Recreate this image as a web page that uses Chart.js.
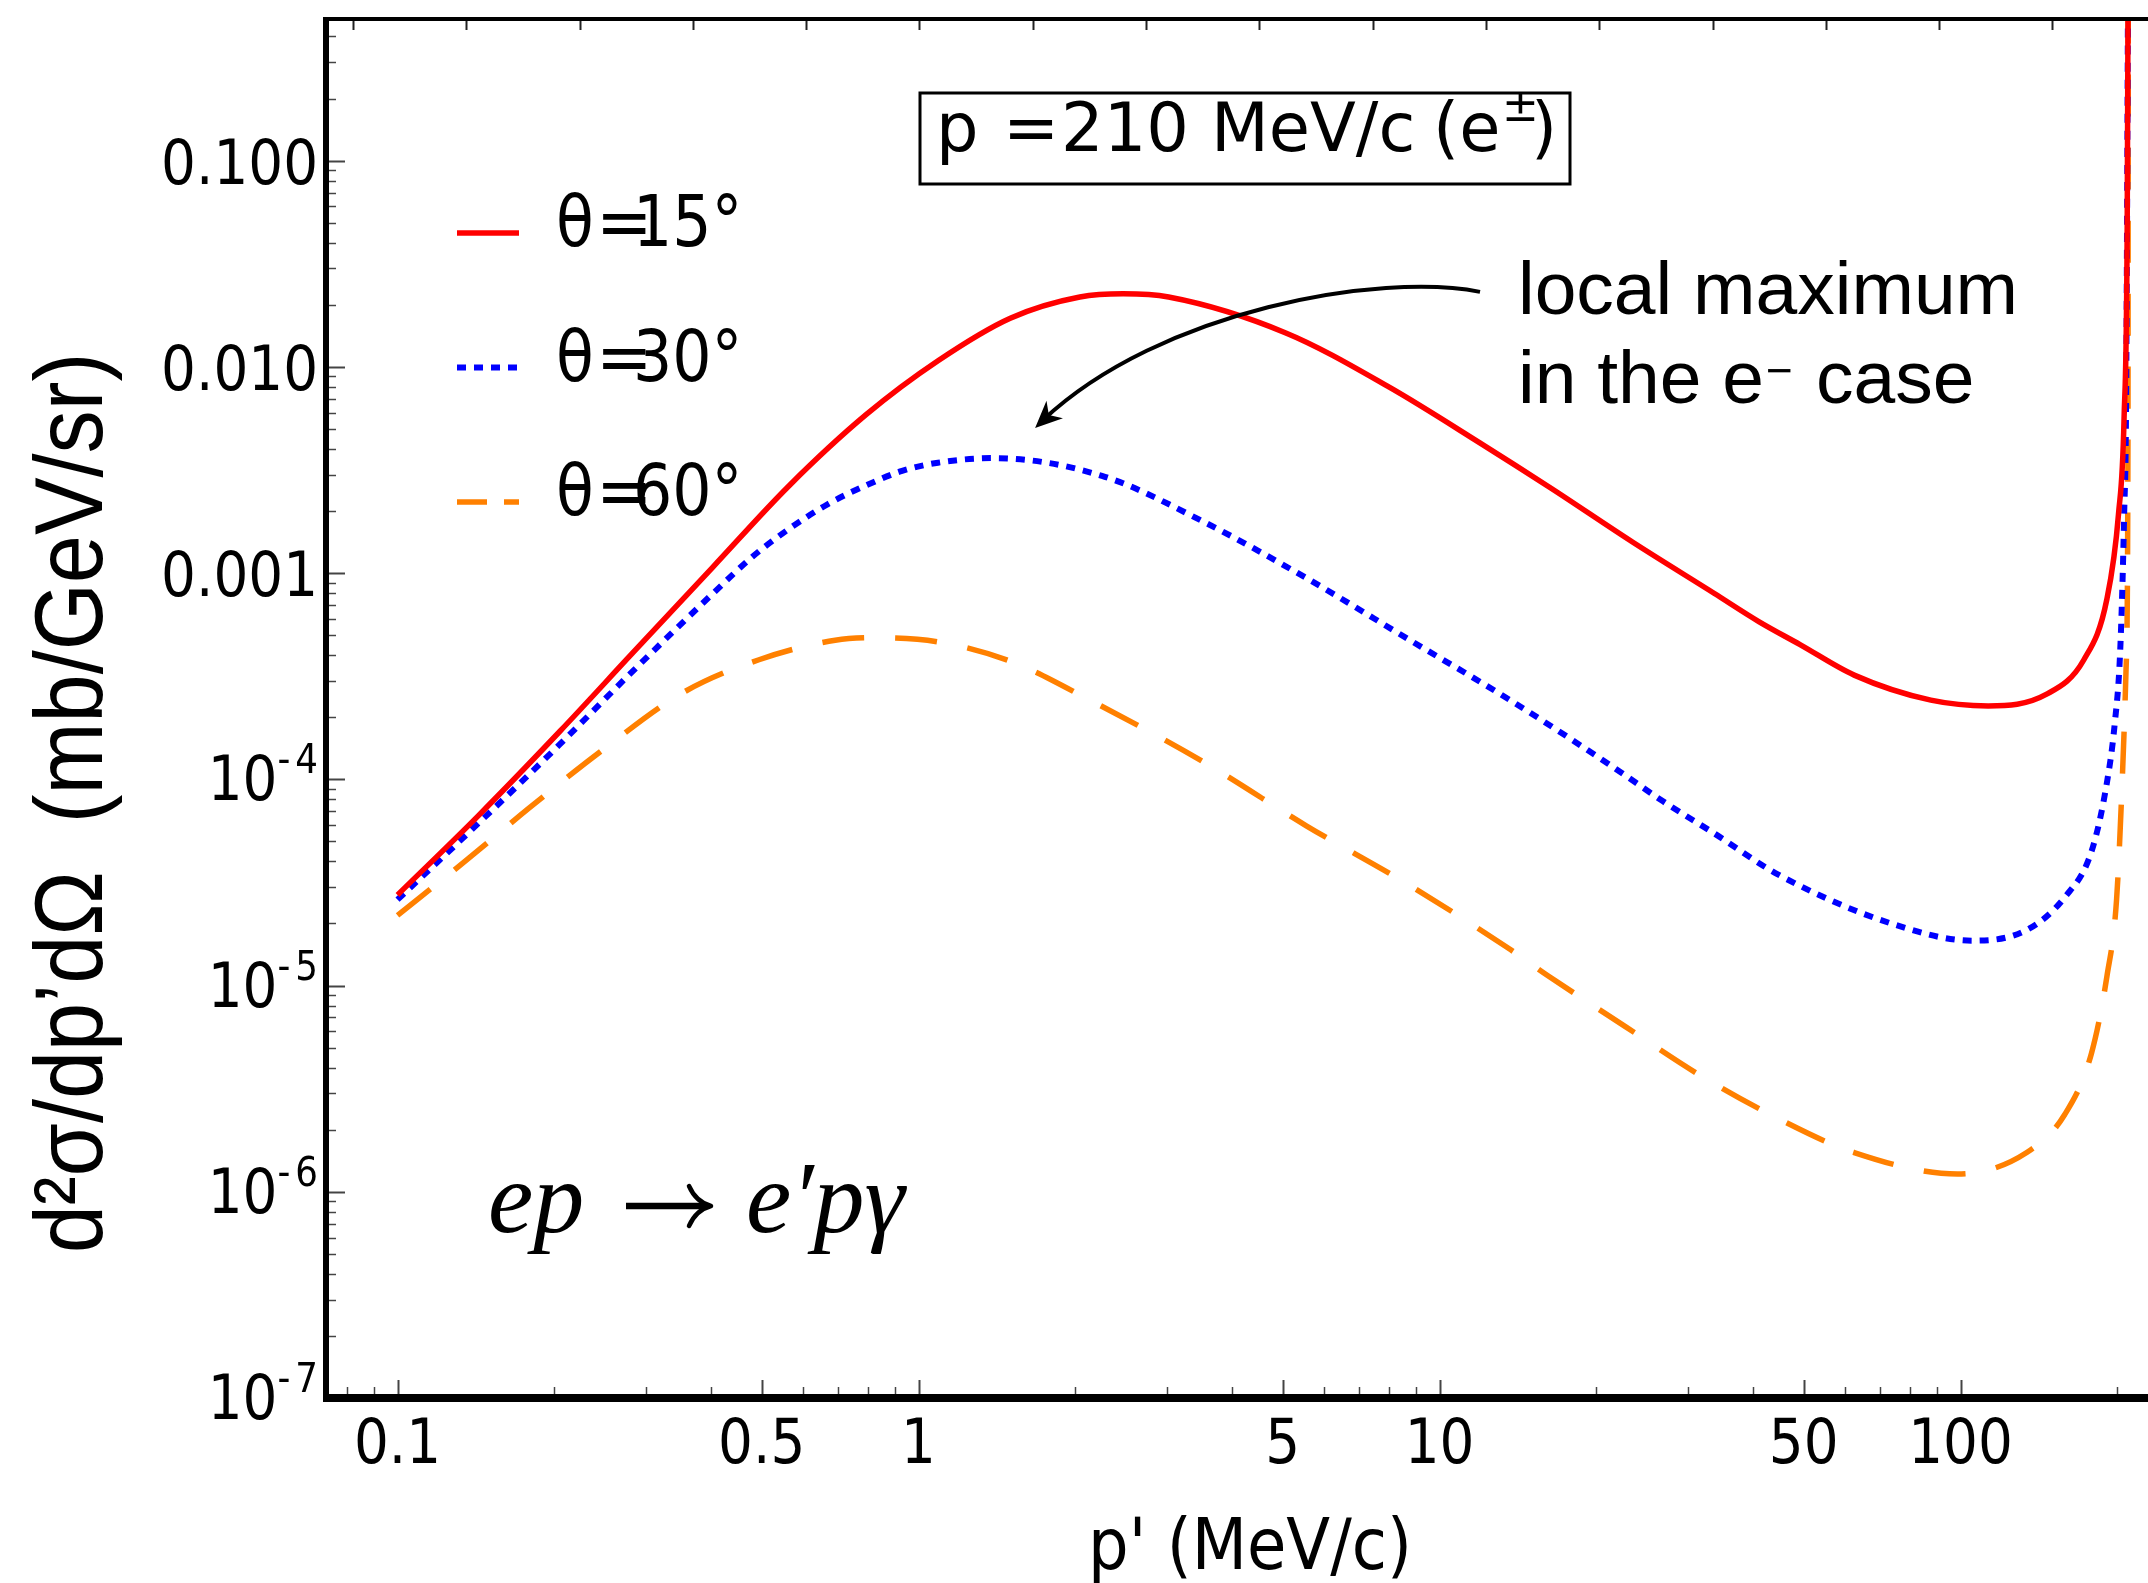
<!DOCTYPE html>
<html>
<head>
<meta charset="utf-8">
<script src="https://cdn.jsdelivr.net/npm/chart.js@4.4.1/dist/chart.umd.min.js"></script>
<style>
  html, body { margin: 0; padding: 0; background: #fff; }
  canvas { display: block; }
</style>
</head>
<body>
<canvas id="xsecChart" width="2148" height="1583"></canvas>
<script>
// ep -> e'p gamma, p = 210 MeV/c: d2sigma/dp'dOmega (mb/GeV/sr) vs p' (MeV/c)

// theta = 15 deg
const p15 = [0.1, 0.143, 0.205, 0.281, 0.403, 0.565, 0.793, 1.09, 1.5, 2.04, 2.47, 3.02, 5.07, 7.96, 11.95, 16.4, 23.5, 33.7, 41, 49.2, 62.5, 87.7, 113, 146, 172.5, 191, 201, 206, 208.9, 209.8];
const sigma15 = [2.75e-5, 6.67e-5, 1.71e-4, 4.03e-4, 1.07e-3, 2.66e-3, 5.86e-3, 1.07e-2, 1.72e-2, 2.18e-2, 2.26e-2, 2.18e-2, 1.46e-2, 8.04e-3, 4.28e-3, 2.57e-3, 1.41e-3, 7.96e-4, 5.82e-4, 4.5e-4, 3.2e-4, 2.42e-4, 2.27e-4, 2.58e-4, 3.8e-4, 7.5e-4, 1.93e-3, 5.6e-3, 5e-2, 1.0];

// theta = 30 deg
const p30 = [0.1, 0.143, 0.205, 0.281, 0.403, 0.48, 0.553, 0.67, 0.793, 0.93, 1.09, 1.39, 2.25, 3.53, 5.55, 8.71, 13.7, 21.5, 26.9, 33.7, 44.6, 74, 105.6, 134, 158.5, 178.4, 191, 197.6, 202.6, 206.1, 207.9, 209.8];
const sigma30 = [2.61e-5, 6.12e-5, 1.48e-4, 3.29e-4, 7.96e-4, 1.2e-3, 1.58e-3, 2.16e-3, 2.66e-3, 3.13e-3, 3.43e-3, 3.61e-3, 2.96e-3, 1.77e-3, 9.46e-4, 4.78e-4, 2.41e-4, 1.15e-4, 7.8e-5, 5.46e-5, 3.46e-5, 1.99e-5, 1.65e-5, 1.86e-5, 2.68e-5, 4.47e-5, 9.66e-5, 1.84e-4, 4.3e-4, 1.93e-3, 6.97e-3, 1.0];

// theta = 60 deg
const p60 = [0.1, 0.1365, 0.179, 0.245, 0.352, 0.494, 0.692, 0.829, 1.09, 1.52, 2.14, 3.53, 5.55, 8.71, 13.7, 16.2, 22.7, 31.8, 44.6, 62.5, 98.7, 134, 158.5, 178.4, 191, 199.3, 204.3, 207.9, 209.6, 209.9];
const sigma60 = [2.19e-5, 4.11e-5, 7.26e-5, 1.36e-4, 2.62e-4, 3.8e-4, 4.72e-4, 4.86e-4, 4.64e-4, 3.69e-4, 2.41e-4, 1.21e-4, 5.95e-5, 3.09e-5, 1.49e-5, 1.11e-5, 6.34e-6, 3.64e-6, 2.27e-6, 1.55e-6, 1.22e-6, 1.55e-6, 2.37e-6, 4.7e-6, 1.11e-5, 2.61e-5, 9.7e-5, 3.5e-4, 4.5e-3, 1.0];

const seriesLabels = ['θ=15°', 'θ=30°', 'θ=60°'];

// axes
const xTickValues = [0.1, 0.5, 1, 5, 10, 50, 100];
const xTickLabels = ['0.1', '0.5', '1', '5', '10', '50', '100'];
const yTickValues = [1e-7, 1e-6, 1e-5, 1e-4, 1e-3, 1e-2, 1e-1];
const yTickLabels = ['10^-7', '10^-6', '10^-5', '10^-4', '0.001', '0.010', '0.100'];
const xMin = 0.0729, xMax = 229;
const yMin = 1e-7, yMax = 0.486;

// arrow pointing at the local maximum (data coords: start, ctrl1, ctrl2, tip)
const arrowPath = [[11.96, 0.0231], [7.69, 0.0288], [2.909, 0.01888], [1.674, 0.00505]];

const DEJAVU = "'DejaVu Sans', sans-serif";
const SANS = "'Liberation Sans', Arial, sans-serif";
const SERIF = "'Liberation Serif', 'Times New Roman', serif";
const NARROW = 0.87;   // horizontal squeeze for the condensed-looking labels

const toPoints = (ps, vs) => ps.map((p, i) => ({ x: p, y: vs[i] }));

function squeezed(ctx, txt, x, y, font, align, sx) {
  ctx.save();
  ctx.font = font;
  ctx.translate(x, y);
  ctx.scale(sx, 1);
  ctx.textAlign = align;
  ctx.fillText(txt, 0, 0);
  ctx.restore();
}
function squeezedWidth(ctx, txt, font, sx) {
  ctx.save();
  ctx.font = font;
  const w = ctx.measureText(txt).width * sx;
  ctx.restore();
  return w;
}

// frame, ticks, labels and annotations
const decorations = {
  id: 'decorations',
  afterDraw(chart) {
    const { ctx, chartArea: a, scales: { x, y } } = chart;
    ctx.save();

    // minor/major ticks, pointing inward
    ctx.strokeStyle = '#444';
    for (let e = -8; e <= 0; e++) {
      for (let m = 1; m <= 9; m++) {
        const v = m * Math.pow(10, e);
        if (v < yMin * 0.999 || v > yMax) continue;
        const py = Math.round(y.getPixelForValue(v)) + 0.5;
        ctx.lineWidth = m === 1 ? 2 : 1.5;
        ctx.beginPath();
        ctx.moveTo(a.left + 3, py);
        ctx.lineTo(a.left + 3 + (m === 1 ? 16 : 7), py);
        ctx.stroke();
      }
    }
    for (let e = -2; e <= 2; e++) {
      for (let m = 1; m <= 9; m++) {
        const v = m * Math.pow(10, e);
        if (v < xMin || v > xMax) continue;
        const major = xTickValues.some(t => Math.abs(t - v) < 1e-9 * t);
        const px = Math.round(x.getPixelForValue(v)) + 0.5;
        ctx.lineWidth = major ? 2 : 1.5;
        ctx.beginPath();
        ctx.moveTo(px, a.bottom - 4);
        ctx.lineTo(px, a.bottom - 4 - (major ? 14 : 7));
        ctx.stroke();
      }
    }
    // top axis ticks (evenly spaced, unlabeled)
    ctx.lineWidth = 2;
    ctx.strokeStyle = '#222';
    for (let px = a.left + 27; px < a.right; px += 113.3) {
      ctx.beginPath();
      ctx.moveTo(Math.round(px) + 0.5, a.top + 2);
      ctx.lineTo(Math.round(px) + 0.5, a.top + 11);
      ctx.stroke();
    }

    // spines
    ctx.strokeStyle = '#000';
    ctx.lineWidth = 4;
    ctx.beginPath(); ctx.moveTo(a.left, a.top); ctx.lineTo(a.right, a.top); ctx.stroke();
    ctx.lineWidth = 6;
    ctx.beginPath(); ctx.moveTo(a.left, a.top - 2); ctx.lineTo(a.left, a.bottom + 4); ctx.stroke();
    ctx.lineWidth = 8;
    ctx.beginPath(); ctx.moveTo(a.left - 3, a.bottom); ctx.lineTo(a.right, a.bottom); ctx.stroke();

    // tick labels
    ctx.fillStyle = '#000';
    ctx.textBaseline = 'alphabetic';
    const tickFont = `63px ${DEJAVU}`;
    const supFont = `41px ${DEJAVU}`;
    xTickValues.forEach((v, i) => {
      squeezed(ctx, xTickLabels[i], x.getPixelForValue(v), a.bottom + 65, tickFont, 'center', NARROW);
    });
    yTickValues.forEach((v, i) => {
      const py = y.getPixelForValue(v);
      const lab = yTickLabels[i];
      const xr = a.left - 8;
      if (lab.includes('^')) {
        const [base, exp] = lab.split('^');
        const digit = exp.slice(1);
        const wb = squeezedWidth(ctx, base, tickFont, NARROW);
        const wm = squeezedWidth(ctx, '-', supFont, NARROW);
        const wd = squeezedWidth(ctx, digit, supFont, NARROW);
        const x0 = xr - (wb + wm + 5 + wd);
        squeezed(ctx, base, x0, py + 21, tickFont, 'left', NARROW);
        squeezed(ctx, '-', x0 + wb, py - 6, supFont, 'left', NARROW);
        squeezed(ctx, digit, x0 + wb + wm + 5, py - 6, supFont, 'left', NARROW);
      } else {
        squeezed(ctx, lab, xr, py + 23, tickFont, 'right', NARROW);
      }
    });

    // axis titles
    squeezed(ctx, "p' (MeV/c)", 1250, 1569, `72px ${DEJAVU}`, 'center', 0.89);
    ctx.save();
    ctx.translate(102, 803);
    ctx.rotate(-Math.PI / 2);
    ctx.scale(0.9, 1);
    ctx.font = `96px ${SANS}`;
    ctx.textAlign = 'center';
    ctx.fillText('d²σ/dp’dΩ  (mb/GeV/sr)', 0, 0);
    ctx.restore();

    // legend
    const legFont = `71px ${DEJAVU}`;
    chart.data.datasets.forEach((ds, i) => {
      const ly = 233 + i * 134.5;
      ctx.strokeStyle = ds.borderColor;
      ctx.lineWidth = ds.borderWidth;
      ctx.setLineDash(ds.legendDash);
      ctx.beginPath();
      ctx.moveTo(457, ly);
      ctx.lineTo(519, ly);
      ctx.stroke();
      ctx.setLineDash([]);
      ctx.fillStyle = '#000';
      const txt = ds.label;
      squeezed(ctx, txt.slice(0, 1), 556, ly + 13, legFont, 'left', NARROW);
      squeezed(ctx, '=', 596, ly + 13, legFont, 'left', 0.95);
      squeezed(ctx, txt.slice(2), 633, ly + 13, legFont, 'left', NARROW);
    });

    // beam momentum box
    ctx.textAlign = 'left';
    ctx.strokeStyle = '#000';
    ctx.lineWidth = 3;
    ctx.strokeRect(920, 93, 650, 91);
    ctx.font = `67px ${DEJAVU}`;
    ctx.fillText('p', 936, 151);
    ctx.fillText('=', 1003, 151);
    ctx.fillText('210', 1061, 151);
    ctx.fillText('MeV/c', 1211, 151);
    ctx.fillText('(e', 1433, 151);
    ctx.fillText(')', 1531, 151);
    ctx.font = `44px ${DEJAVU}`;
    ctx.fillText('±', 1502, 121);

    // annotation text
    ctx.font = `75px ${SANS}`;
    ctx.fillText('local maximum', 1518, 314);
    const pre = 'in the e';
    ctx.fillText(pre, 1518, 403);
    const xe = 1518 + ctx.measureText(pre).width;
    ctx.font = `46px ${SANS}`;
    ctx.fillText('−', xe + 2, 386);
    ctx.font = `75px ${SANS}`;
    ctx.fillText('case', 1816, 403);

    // curved arrow
    const pts = arrowPath.map(([pv, sv]) => [x.getPixelForValue(pv), y.getPixelForValue(sv)]);
    ctx.lineWidth = 4;
    ctx.beginPath();
    ctx.moveTo(pts[0][0], pts[0][1]);
    ctx.bezierCurveTo(pts[1][0], pts[1][1], pts[2][0], pts[2][1], pts[3][0] + 8, pts[3][1] - 8);
    ctx.stroke();
    const ang = Math.atan2(pts[3][1] - pts[2][1], pts[3][0] - pts[2][0]);
    const hl = 27, hw = 12;
    const bx = pts[3][0] - hl * Math.cos(ang), by = pts[3][1] - hl * Math.sin(ang);
    ctx.fillStyle = '#000';
    ctx.beginPath();
    ctx.moveTo(pts[3][0], pts[3][1]);
    ctx.lineTo(bx - hw * Math.sin(ang), by + hw * Math.cos(ang));
    ctx.lineTo(pts[3][0] - 0.7 * hl * Math.cos(ang), pts[3][1] - 0.7 * hl * Math.sin(ang));
    ctx.lineTo(bx + hw * Math.sin(ang), by - hw * Math.cos(ang));
    ctx.closePath();
    ctx.fill();

    // reaction label  ep -> e'p gamma
    ctx.font = `italic 102px ${SERIF}`;
    ctx.fillText('ep', 488, 1232);
    ctx.fillText('e′pγ', 746, 1232);
    ctx.lineCap = 'butt';
    ctx.lineWidth = 6.5;
    ctx.beginPath(); ctx.moveTo(626, 1206); ctx.lineTo(707, 1206); ctx.stroke();
    ctx.lineWidth = 4.5;
    ctx.lineCap = 'round';
    ctx.beginPath();
    ctx.moveTo(689, 1186); ctx.quadraticCurveTo(696, 1202, 711, 1206);
    ctx.moveTo(689, 1226); ctx.quadraticCurveTo(696, 1210, 711, 1206);
    ctx.stroke();

    ctx.restore();
  }
};

new Chart(document.getElementById('xsecChart').getContext('2d'), {
  type: 'line',
  data: {
    datasets: [
      { label: seriesLabels[0], data: toPoints(p15, sigma15), borderColor: '#ff0000', borderWidth: 5.5, borderDash: [], legendDash: [] },
      { label: seriesLabels[1], data: toPoints(p30, sigma30), borderColor: '#0000ff', borderWidth: 6, borderDash: [9, 8], legendDash: [9, 8] },
      { label: seriesLabels[2], data: toPoints(p60, sigma60), borderColor: '#ff8000', borderWidth: 5.5, borderDash: [42, 31], legendDash: [30, 17] }
    ]
  },
  options: {
    responsive: false,
    animation: false,
    devicePixelRatio: 1,
    events: [],
    layout: { padding: { top: 19, left: 0, right: 0, bottom: 0 } },
    elements: {
      point: { radius: 0 },
      line: { cubicInterpolationMode: 'monotone', fill: false, borderCapStyle: 'butt' }
    },
    plugins: {
      legend: { display: false },
      title: { display: false },
      tooltip: { enabled: false }
    },
    scales: {
      x: {
        type: 'logarithmic',
        min: xMin,
        max: xMax,
        grid: { display: false, drawTicks: false },
        border: { display: false },
        afterFit: s => { s.height = 185; },
        afterBuildTicks: s => { s.ticks = xTickValues.map(v => ({ value: v })); },
        ticks: { display: false }
      },
      y: {
        type: 'logarithmic',
        min: yMin,
        max: yMax,
        grid: { display: false, drawTicks: false },
        border: { display: false },
        afterFit: s => { s.width = 326; },
        afterBuildTicks: s => { s.ticks = yTickValues.map(v => ({ value: v })); },
        ticks: { display: false }
      }
    }
  },
  plugins: [decorations]
});
</script>
</body>
</html>
